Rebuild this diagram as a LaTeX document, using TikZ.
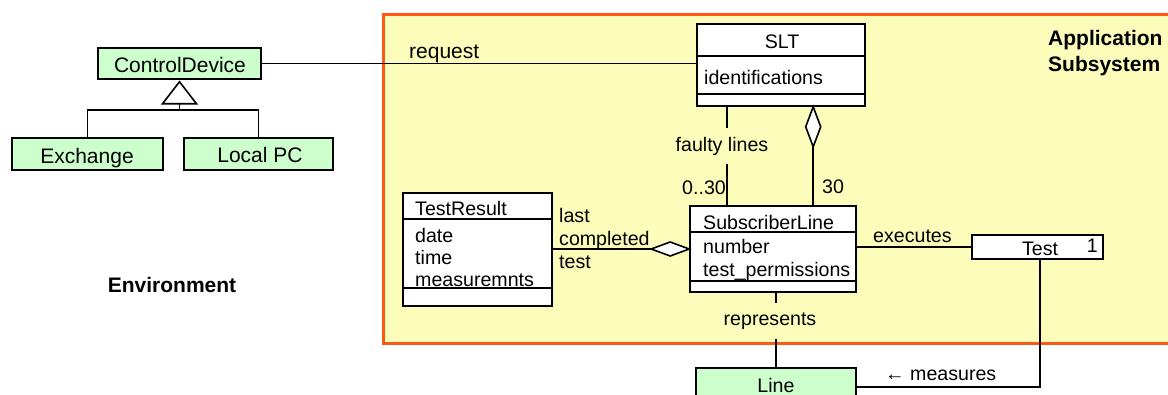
\documentclass[tikz,border=0pt]{standalone}
\usepackage{fontspec}
\setmainfont{Liberation Sans}
\usetikzlibrary{calc}
\definecolor{framefill}{RGB}{252,252,187}
\definecolor{frameline}{RGB}{255,88,20}
\definecolor{devfill}{RGB}{204,255,204}
\begin{document}
\begin{tikzpicture}[x=1pt,y=-1pt,
  every node/.style={font=\fontsize{19.6}{22}\selectfont},
  big/.style={font=\fontsize{21}{24}\selectfont},
  bigbold/.style={font=\fontsize{21}{24}\selectfont\bfseries},
  lbl/.style={inner sep=0pt, anchor=base west},
  clabel/.style={inner sep=0pt, anchor=base},
  gaplabel/.style={inner sep=9pt, anchor=center},
  cls/.style={draw, line width=1.6pt, fill=white, inner sep=0pt},
  dev/.style={draw, line width=1.5pt, fill=devfill, inner sep=0pt},
  conn/.style={line width=1.6pt},
  sep/.style={line width=1.5pt}]
\useasboundingbox (0,0) rectangle (1168,394);
\clip (0,0) rectangle (1168,394);

% application subsystem frame
\draw[line width=3pt, frameline, fill=framefill] (383,14) rectangle (1190,343);
\node[lbl, bigbold] (apptxt1) at (1048,45) {Application};
\node[lbl, bigbold] (apptxt2) at (1048,71) {Subsystem};
\node[clabel, bigbold] (envtxt) at (172,292) {Environment};

% environment classes
\node[dev, minimum width=163pt, minimum height=31pt] (cd) at (179.5,63.5) {};
\node[clabel, big] (cdt) at (180,72) {ControlDevice};
\node[dev, minimum width=151pt, minimum height=32pt] (exch) at (87.5,154) {};
\node[clabel, big] (excht) at (87,163) {Exchange};
\node[dev, minimum width=149pt, minimum height=32pt] (lpc) at (258.5,154) {};
\node[clabel, big] (lpct) at (260,162) {Local PC};
\node[dev, minimum width=160pt, minimum height=38pt] (line) at (776,387) {};
\node[clabel] (linet) at (776,392) {Line};

% SLT class
\node[cls, minimum width=168pt, minimum height=82pt] (slt) at (781,65) {};
\draw[sep] ($(slt.north west)+(0,33)$) -- ($(slt.north east)+(0,33)$);
\draw[sep] ($(slt.north west)+(0,71)$) -- ($(slt.north east)+(0,71)$);
\node[clabel] (sltt) at (782,48) {SLT};
\node[lbl] (sltid) at (704,84) {identifications};

% SubscriberLine class
\node[cls, minimum width=166pt, minimum height=86pt] (sl) at (773,249) {};
\draw[sep] ($(sl.north west)+(0,27)$) -- ($(sl.north east)+(0,27)$);
\draw[sep] ($(sl.north west)+(0,76)$) -- ($(sl.north east)+(0,76)$);
\node[lbl] (slt1) at (703,229) {SubscriberLine};
\node[lbl] (slt2) at (703,253) {number};
\node[lbl] (slt3) at (703,276) {test\_permissions};

% TestResult class
\node[cls, minimum width=149pt, minimum height=113pt] (tr) at (477.5,249.5) {};
\draw[sep] ($(tr.north west)+(0,27)$) -- ($(tr.north east)+(0,27)$);
\draw[sep] ($(tr.north west)+(0,96)$) -- ($(tr.north east)+(0,96)$);
\node[lbl] (tr1) at (415,215) {TestResult};
\node[lbl] (tr2) at (415,242) {date};
\node[lbl] (tr3) at (415,264) {time};
\node[lbl] (tr4) at (415,286) {measuremnts};

% Test class
\node[cls, minimum width=131pt, minimum height=24pt] (test) at (1037.5,247) {};
\node[clabel] (testt) at (1040,255) {Test};
\node[inner sep=0pt, anchor=base east] (testm) at (1098,252) {1};

% ControlDevice -- SLT
\draw[conn] (cd.east) -- (cd.east -| slt.west);
\node[lbl, big] (req) at (409,58) {request};

% generalization
\coordinate (gb) at ($(cd.south)+(0,24)$);
\coordinate (gj) at ($(cd.south)+(0,30)$);
\draw[conn] (gb) -- (gj);
\draw[conn] (exch.north) |- (gj) -| (lpc.north);
\draw[conn, fill=white, line join=miter] ($(cd.south)+(0,2)$) -- ($(gb)+(-17,0)$) -- ($(gb)+(17,0)$) -- cycle;

% SLT -- SubscriberLine: faulty lines
\coordinate (fa) at ($(slt.south west)+(31,0)$);
\node[gaplabel] (faulty) at (722,146) {faulty lines};
\draw[conn] (fa) -- (fa |- faulty.north);
\draw[conn] (fa |- faulty.south) -- (fa |- sl.north);
\node[lbl] (m030) at (682,194) {0..30};

% SLT aggregates SubscriberLine
\coordinate (ag) at ($(slt.south west)+(117,0)$);
\coordinate (agb) at ($(ag)+(0,40)$);
\draw[conn, fill=white] (ag) -- ($(ag)+(7.5,20)$) -- (agb) -- ($(ag)+(-7.5,20)$) -- cycle;
\draw[conn] (agb) -- (ag |- sl.north);
\node[lbl] (m30) at (822,193) {30};

% SubscriberLine aggregates TestResult
\coordinate (dl) at ($(sl.west)+(-38,0)$);
\draw[conn, fill=white] (sl.west) -- ($(sl.west)+(-19,-7)$) -- (dl) -- ($(sl.west)+(-19,7)$) -- cycle;
\draw[conn] (tr.east |- sl.west) -- (dl);
\node[lbl] (lc1) at (559,222) {last};
\node[lbl] (lc2) at (559,245) {completed};
\node[lbl] (lc3) at (559,268) {test};

% SubscriberLine -- Test
\draw[conn] (test.west -| sl.east) -- (test.west);
\node[lbl] (exe) at (873,242) {executes};

% Test -- Line
\coordinate (mx) at ($(test.south west)+(69,0)$);
\draw[conn] (mx) |- (line.east);
\node[lbl] (meas) at (885,380) {← measures};

% SubscriberLine -- Line
\coordinate (rx) at ($(sl.south west)+(87,0)$);
\node[gaplabel] (rep) at (770,321) {represents};
\draw[conn] (rx) -- (rx |- rep.north);
\draw[conn] (rep.south -| line.north) -- (line.north);
\end{tikzpicture}
\end{document}
